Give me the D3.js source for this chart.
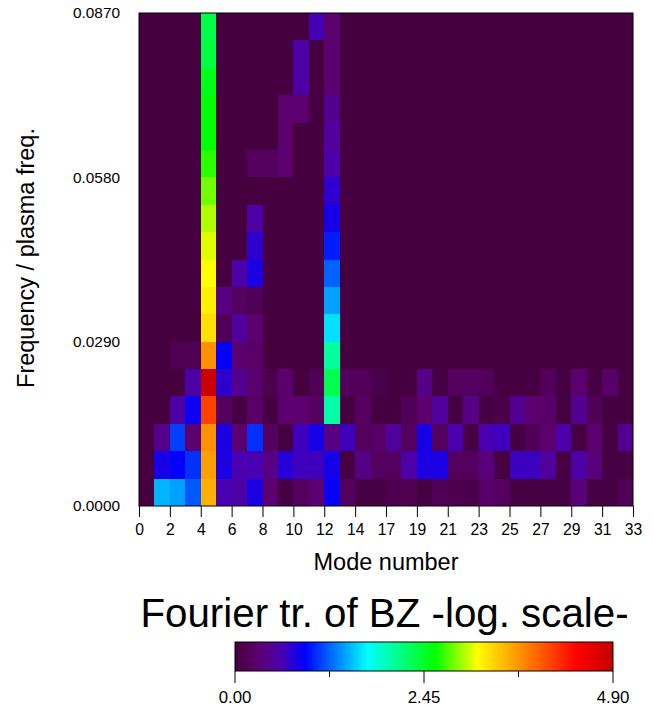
<!DOCTYPE html>
<html>
<head>
<meta charset="utf-8">
<script src="https://cdn.jsdelivr.net/npm/d3@7"></script>
<style>
  html, body { margin: 0; padding: 0; background: #fff; }
  svg { display: block; }
  text { font-family: "Liberation Sans", Arial, sans-serif; fill: #000; }
</style>
</head>
<body>
<svg id="chart" width="653" height="707"></svg>
<script>
// log amplitude per frequency bin (bottom row first), one value per mode column 0..31
const row00 = [.02,1.49,1.42,1.19,3.54,.6,.55,.8,.3,.05,.2,.3,.88,.2,.05,.05,.1,.12,.05,.15,.1,.08,.25,.2,.05,.05,.05,.05,.35,.05,.05,.15];
const row01 = [.02,.82,.89,1.06,3.62,.8,.6,.6,.4,.75,.65,.65,.82,.03,.4,.2,.2,.55,.8,.8,.2,.2,.35,.03,.66,.66,.5,.05,.55,.35,.05,.05];
const row02 = [.02,.42,1.11,.3,3.7,.8,.3,1.06,.2,.03,.65,.82,.38,.65,.2,.25,.5,.2,.82,.2,.6,.05,.6,.65,.03,.15,.3,.58,.03,.3,.04,.45];
const row03 = [.02,.02,.55,.85,4.1,.2,.05,.25,.05,.3,.3,.22,2.02,.03,.22,.03,.03,.15,.3,.5,.03,.4,.05,.08,.45,.3,.25,.03,.45,.15,.03,.03];
const row04 = [.02,.02,.02,.55,4.85,.72,.45,.28,.1,.3,.02,.15,2.32,.18,.18,.08,.03,.03,.4,.05,.2,.2,.18,.03,.03,.03,.18,.05,.3,.05,.25,.03];
const row05 = [.02,.02,.12,.12,3.7,.9,.3,.25,.02,.02,.02,.02,2.05,.02,.02,.02,.02,.02,.02,.02,.02,.02,.02,.02,.02,.02,.02,.02,.02,.02,.02,.02];
const row06 = [.02,.02,.02,.02,3.3,.15,.5,.3,.02,.02,.02,.02,1.62,.02,.02,.02,.02,.02,.02,.02,.02,.02,.02,.02,.02,.02,.02,.02,.02,.02,.02,.02];
const row07 = [.02,.02,.02,.02,3.22,.38,.2,.15,.02,.02,.02,.02,1.42,.02,.02,.02,.02,.02,.02,.02,.02,.02,.02,.02,.02,.02,.02,.02,.02,.02,.02,.02];
const row08 = [.02,.02,.02,.02,3.14,.02,.55,.8,.02,.02,.02,.02,1.22,.02,.02,.02,.02,.02,.02,.02,.02,.02,.02,.02,.02,.02,.02,.02,.02,.02,.02,.02];
const row09 = [.02,.02,.02,.02,3.07,.02,.02,.72,.02,.02,.02,.02,1.0,.02,.02,.02,.02,.02,.02,.02,.02,.02,.02,.02,.02,.02,.02,.02,.02,.02,.02,.02];
const row10 = [.02,.02,.02,.02,2.97,.02,.02,.55,.02,.02,.02,.02,.82,.02,.02,.02,.02,.02,.02,.02,.02,.02,.02,.02,.02,.02,.02,.02,.02,.02,.02,.02];
const row11 = [.02,.02,.02,.02,2.83,.02,.02,.02,.02,.02,.02,.02,.72,.02,.02,.02,.02,.02,.02,.02,.02,.02,.02,.02,.02,.02,.02,.02,.02,.02,.02,.02];
const row12 = [.02,.02,.02,.02,2.68,.02,.02,.2,.2,.3,.02,.02,.55,.02,.02,.02,.02,.02,.02,.02,.02,.02,.02,.02,.02,.02,.02,.02,.02,.02,.02,.02];
const row13 = [.02,.02,.02,.02,2.59,.02,.02,.02,.02,.3,.02,.02,.5,.02,.02,.02,.02,.02,.02,.02,.02,.02,.02,.02,.02,.02,.02,.02,.02,.02,.02,.02];
const row14 = [.02,.02,.02,.02,2.59,.02,.02,.02,.02,.3,.3,.02,.45,.02,.02,.02,.02,.02,.02,.02,.02,.02,.02,.02,.02,.02,.02,.02,.02,.02,.02,.02];
const row15 = [.02,.02,.02,.02,2.51,.02,.02,.02,.02,.02,.55,.02,.3,.02,.02,.02,.02,.02,.02,.02,.02,.02,.02,.02,.02,.02,.02,.02,.02,.02,.02,.02];
const row16 = [.02,.02,.02,.02,2.37,.02,.02,.02,.02,.02,.55,.02,.3,.02,.02,.02,.02,.02,.02,.02,.02,.02,.02,.02,.02,.02,.02,.02,.02,.02,.02,.02];
const row17 = [.02,.02,.02,.02,2.35,.02,.02,.02,.02,.02,.02,.62,.3,.02,.02,.02,.02,.02,.02,.02,.02,.02,.02,.02,.02,.02,.02,.02,.02,.02,.02,.02];
const rows = [row00,row01,row02,row03,row04,row05,row06,row07,row08,row09,row10,row11,row12,row13,row14,row15,row16,row17];

const modeTicks = d3.range(17).map(i => 33 * i / 16);
const freqTicks = [0, 0.029, 0.058, 0.087];
const legendTicks = [0, 1.225, 2.45, 3.675, 4.9];
const legendLabels = [0, 2.45, 4.9];

const colorValues = [0, .3, .6, .91, 1.72, 2.59, 3.14, 4.43, 4.9];
const colorRange = ["#44003c", "#5c0070", "#4a00b0", "#0000ff", "#00ffff", "#00ff00", "#ffff00", "#ff0000", "#c40000"];

const svg = d3.select("#chart");
const plotLeft = 139, plotRight = 633, plotTop = 13, plotBottom = 506;

const colorScale = d3.scaleLinear().domain(colorValues).range(colorRange);
const xCell = d3.scaleLinear().domain([0, rows[0].length]).range([plotLeft, plotRight]);
const yCell = d3.scaleLinear().domain([0, rows.length]).range([plotBottom, plotTop]);
const xScale = d3.scaleLinear().domain([0, 33]).range([plotLeft, plotRight]);
const yScale = d3.scaleLinear().domain([0, 0.087]).range([plotBottom, plotTop]);

rows.forEach((row, j) => {
  svg.append("g")
    .attr("shape-rendering", "crispEdges")
    .selectAll("rect")
    .data(row)
    .enter()
    .append("rect")
    .attr("x", (d, i) => xCell(i))
    .attr("y", yCell(j + 1))
    .attr("width", (d, i) => xCell(i + 1) - xCell(i))
    .attr("height", yCell(j) - yCell(j + 1))
    .attr("fill", d => colorScale(d));
});

svg.append("rect")
  .attr("x", plotLeft).attr("y", plotTop)
  .attr("width", plotRight - plotLeft).attr("height", plotBottom - plotTop)
  .attr("fill", "none").attr("stroke", "#000");

const xAxis = svg.append("g")
  .attr("transform", `translate(0,${plotBottom})`)
  .call(d3.axisBottom(xScale).tickValues(modeTicks).tickFormat(d => Math.round(d)).tickSize(11).tickPadding(7));
xAxis.select(".domain").remove();
xAxis.selectAll("text").attr("font-size", 15.7).style("font-family", "Liberation Sans");

const yAxis = svg.append("g")
  .attr("transform", `translate(${plotLeft},0)`)
  .call(d3.axisLeft(yScale).tickValues(freqTicks).tickFormat(d3.format(".4f")).tickSize(0).tickPadding(19));
yAxis.select(".domain").remove();
yAxis.selectAll("text").attr("font-size", 15.4).style("font-family", "Liberation Sans");

svg.append("text")
  .attr("x", 386).attr("y", 570)
  .attr("text-anchor", "middle").attr("font-size", 23.5)
  .text("Mode number");

svg.append("text")
  .attr("transform", "translate(34,258) rotate(-90)")
  .attr("text-anchor", "middle").attr("font-size", 23.5)
  .text("Frequency / plasma freq.");

svg.append("text")
  .attr("x", 384.5).attr("y", 627)
  .attr("text-anchor", "middle").attr("font-size", 40.3)
  .text("Fourier tr. of BZ -log. scale-");

// colour bar
const legendLeft = 235, legendRight = 613, legendTop = 642, legendBottom = 671;
const legendScale = d3.scaleLinear().domain([0, 4.9]).range([legendLeft, legendRight]);
const legendId = "legend-grad";

svg.append("defs").append("linearGradient")
  .attr("id", legendId)
  .selectAll("stop")
  .data(colorValues)
  .enter()
  .append("stop")
  .attr("offset", d => d / 4.9)
  .attr("stop-color", d => colorScale(d));

svg.append("rect")
  .attr("x", legendLeft).attr("y", legendTop)
  .attr("width", legendRight - legendLeft).attr("height", legendBottom - legendTop)
  .attr("fill", `url(#${legendId})`).attr("stroke", "#000");

svg.append("g")
  .selectAll("line")
  .data(legendTicks)
  .enter()
  .append("line")
  .attr("x1", d => legendScale(d)).attr("x2", d => legendScale(d))
  .attr("y1", legendBottom)
  .attr("y2", d => legendBottom + (legendLabels.includes(d) ? 12 : 6))
  .attr("stroke", "#000");

svg.append("g")
  .selectAll("text")
  .data(legendLabels)
  .enter()
  .append("text")
  .attr("x", d => legendScale(d)).attr("y", 703)
  .attr("text-anchor", "middle").attr("font-size", 16.8)
  .text(d => d3.format(".2f")(d));
</script>
</body>
</html>
